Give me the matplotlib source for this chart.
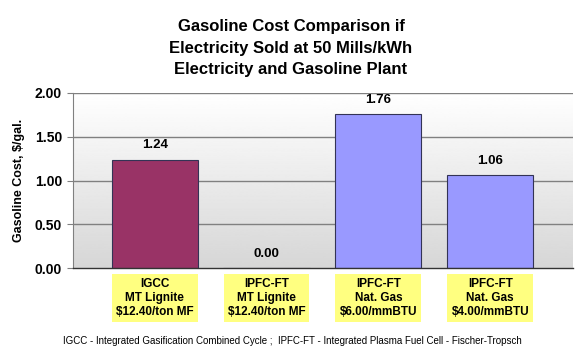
import matplotlib
matplotlib.use('Agg')
from matplotlib import pyplot as plt
import numpy as np

# data
categories = ['IGCC\nMT Lignite\n$12.40/ton MF',
              'IPFC-FT\nMT Lignite\n$12.40/ton MF',
              'IPFC-FT\nNat. Gas\n$6.00/mmBTU',
              'IPFC-FT\nNat. Gas\n$4.00/mmBTU']
costs = [1.24, 0.00, 1.76, 1.06]
bar_colors = ['#993366', '#9999ff', '#9999ff', '#9999ff']
yticks = [0.0, 0.5, 1.0, 1.5, 2.0]

title = ('Gasoline Cost Comparison if\n'
         'Electricity Sold at 50 Mills/kWh\n'
         'Electricity and Gasoline Plant')
footnote = ('IGCC - Integrated Gasification Combined Cycle ;  '
            'IPFC-FT - Integrated Plasma Fuel Cell - Fischer-Tropsch')

plt.rcParams['font.family'] = 'Liberation Sans'

W, H = 582, 353
fig = plt.figure(figsize=(W / 100, H / 100), dpi=100)
fig.patch.set_facecolor('white')
ax = fig.add_axes([73 / W, (H - 268) / H, 500 / W, 175 / H])

x = np.arange(len(categories))
ax.set_xlim(-0.73, 3.74)
ax.set_ylim(0, 2.0)

# grey gradient background
grad = np.linspace(0.84, 1.0, 256).reshape(-1, 1)
ax.imshow(grad, extent=[-0.73, 3.74, 0, 2.0], aspect='auto', cmap='gray',
          vmin=0, vmax=1, origin='lower', zorder=0)

for yv in yticks[1:]:
    ax.axhline(yv, color='#808080', lw=1.0, zorder=1)

bars = ax.bar(x, costs, width=0.77, color=bar_colors, edgecolor='#333355',
              linewidth=0.8, zorder=2)
for xi, v in zip(x, costs):
    ax.annotate('%.2f' % v, (xi, v), xytext=(0, 6), textcoords='offset points',
                ha='center', va='bottom', fontsize=9.5, fontweight='bold')

ax.set_yticks(yticks)
ax.set_yticklabels(['%.2f' % t for t in yticks], fontsize=10, fontweight='bold')
ax.tick_params(axis='y', length=4, width=0.8, color='#808080', pad=4)
ax.set_xticks([])
ax.set_ylabel('Gasoline Cost, $/gal.', fontsize=9, fontweight='bold', labelpad=7)

for side in ['top', 'right']:
    ax.spines[side].set_visible(False)
ax.spines['left'].set_color('#808080')
ax.spines['bottom'].set_color('#333333')
ax.spines['bottom'].set_linewidth(1.0)

# yellow category boxes
for xi, lab in zip(x, categories):
    ax.text(xi, -0.171, lab, transform=ax.get_xaxis_transform(),
            ha='center', va='center', fontsize=8.5, fontweight='bold',
            linespacing=1.2,
            bbox=dict(boxstyle='square,pad=0.35', fc='#ffff80', ec='none'))

fig.text(0.5, 1 - 48 / H, title, ha='center', va='center', fontsize=12,
         fontweight='heavy', linespacing=1.58)
fig.text(63 / W, 1 - 341 / H, footnote, ha='left', va='center', fontsize=7)

fig.savefig('out.png', dpi=100)
